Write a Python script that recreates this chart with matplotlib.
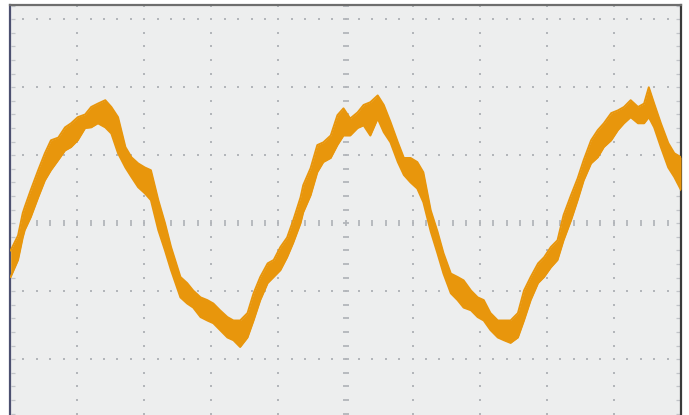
import numpy as np
import matplotlib
matplotlib.use("Agg")
import matplotlib.pyplot as plt

# Trace, in divisions (x: time/div, y: volts/div from centre line)
t_div = [0.01, 0.12, 0.19, 0.22, 0.31, 0.42, 0.52, 0.61, 0.72, 0.82, 0.91, 1.01, 1.12, 1.21,
         1.31, 1.42, 1.51, 1.61, 1.72, 1.81, 1.91, 2.01, 2.10, 2.21, 2.31, 2.40, 2.54, 2.64,
         2.73, 2.84, 2.94, 3.03, 3.13, 3.24, 3.33, 3.43, 3.54, 3.63, 3.73, 3.84, 3.93, 4.03,
         4.13, 4.22, 4.33, 4.37, 4.48, 4.58, 4.67, 4.78, 4.88, 4.97, 5.07, 5.18, 5.27, 5.37,
         5.48, 5.57, 5.67, 5.78, 5.87, 5.97, 6.07, 6.16, 6.27, 6.37, 6.46, 6.57, 6.67, 6.76,
         6.87, 6.97, 7.06, 7.16, 7.27, 7.36, 7.46, 7.57, 7.66, 7.76, 7.87, 7.96, 8.06, 8.16,
         8.25, 8.36, 8.46, 8.55, 8.66, 8.76, 8.85, 8.96, 9.06, 9.15, 9.25, 9.36, 9.45, 9.52,
         9.60, 9.70, 9.81, 9.90, 10.0]
v_hi = [-0.40, -0.18, 0.15, 0.24, 0.49, 0.78, 1.03, 1.22, 1.26, 1.41, 1.47, 1.56, 1.60, 1.71,
        1.76, 1.81, 1.71, 1.56, 1.12, 0.97, 0.88, 0.82, 0.78, 0.34, 0.00, -0.35, -0.79, -0.88,
        -0.99, -1.09, -1.13, -1.18, -1.28, -1.38, -1.43, -1.43, -1.32, -1.03, -0.79, -0.59, -0.54, -0.35,
        -0.21, 0.04, 0.38, 0.56, 0.81, 1.15, 1.19, 1.29, 1.59, 1.69, 1.54, 1.63, 1.74, 1.78,
        1.88, 1.74, 1.49, 1.19, 0.96, 0.96, 0.90, 0.75, 0.19, -0.12, -0.44, -0.74, -0.79, -0.84,
        -0.99, -1.09, -1.13, -1.32, -1.43, -1.43, -1.43, -1.32, -0.99, -0.79, -0.59, -0.50, -0.35, -0.25,
        0.12, 0.41, 0.66, 0.93, 1.22, 1.37, 1.47, 1.62, 1.66, 1.71, 1.81, 1.71, 1.76, 2.00,
        1.76, 1.47, 1.18, 1.03, 0.97]
v_lo = [-0.79, -0.54, -0.21, -0.10, 0.09, 0.38, 0.63, 0.78, 0.93, 1.07, 1.12, 1.22, 1.40, 1.41,
        1.47, 1.41, 1.32, 1.03, 0.82, 0.68, 0.53, 0.44, 0.34, -0.10, -0.40, -0.69, -1.09, -1.18,
        -1.24, -1.38, -1.43, -1.47, -1.57, -1.68, -1.72, -1.82, -1.68, -1.43, -1.13, -0.88, -0.79, -0.69,
        -0.50, -0.29, 0.00, 0.16, 0.41, 0.75, 0.90, 0.96, 1.15, 1.29, 1.29, 1.40, 1.44, 1.29,
        1.54, 1.34, 1.19, 0.90, 0.71, 0.60, 0.51, 0.31, -0.12, -0.44, -0.74, -1.03, -1.13, -1.24,
        -1.28, -1.38, -1.43, -1.57, -1.68, -1.72, -1.76, -1.68, -1.43, -1.13, -0.88, -0.79, -0.65, -0.54,
        -0.25, 0.04, 0.34, 0.63, 0.88, 0.97, 1.12, 1.22, 1.37, 1.47, 1.56, 1.47, 1.47, 1.56,
        1.41, 1.12, 0.82, 0.68, 0.49]

grid_x = [1, 2, 3, 4, 5, 6, 7, 8, 9]
grid_y = [-2, -1, 0, 1, 2, 3]

bg = "#edeeee"
dot = "#b3b6ba"
trace = "#e8960c"

fig = plt.figure(figsize=(6.89, 4.15), dpi=100)
ax = fig.add_axes([10/689, 0, 671/689, 1 - 5/415])
ax.set_facecolor(bg)
ax.set_xlim(0, 10)
ax.set_ylim(-2.82, 3.21)

# dotted graticule, a dot every 1/5 division
xs = np.arange(0, 10.01, 0.2)
ys = np.arange(-3.0, 3.21, 0.2)
for gy in grid_y:
    if gy == 0:
        continue
    ax.plot(xs, np.full_like(xs, gy), ls="none", marker="s", ms=1.5, color=dot, mew=0)
for gx in grid_x:
    if gx == 5:
        continue
    ax.plot(np.full_like(ys, gx), ys, ls="none", marker="s", ms=1.5, color=dot, mew=0)

# centre axes carry longer tick marks
ax.plot(xs, np.zeros_like(xs), ls="none", marker="|", ms=5, mew=1.3, color=dot)
ax.plot(np.full_like(ys, 5), ys, ls="none", marker="_", ms=5, mew=1.3, color=dot)
# small ticks along the side borders
ax.plot(np.full_like(ys, 0.04), ys, ls="none", marker="_", ms=3, mew=0.9, color="#c2c5c9")
ax.plot(np.full_like(ys, 9.96), ys, ls="none", marker="_", ms=3, mew=0.9, color="#c2c5c9")

# the noisy trace as a band between its upper and lower edge
ax.fill_between(t_div, v_lo, v_hi, color=trace, lw=0, zorder=3)
ax.plot(t_div, v_hi, color=trace, lw=1.4, zorder=3)
ax.plot(t_div, v_lo, color=trace, lw=1.4, zorder=3)

ax.set_xticks([])
ax.set_yticks([])
ax.spines["bottom"].set_visible(False)
ax.spines["left"].set_color("#4c5070")
ax.spines["left"].set_linewidth(1.6)
ax.spines["top"].set_color("#6e6e6e")
ax.spines["top"].set_linewidth(1.6)
ax.spines["right"].set_color("#3a3a3a")
ax.spines["right"].set_linewidth(1.6)

fig.savefig("out.png", dpi=100, facecolor="white")
